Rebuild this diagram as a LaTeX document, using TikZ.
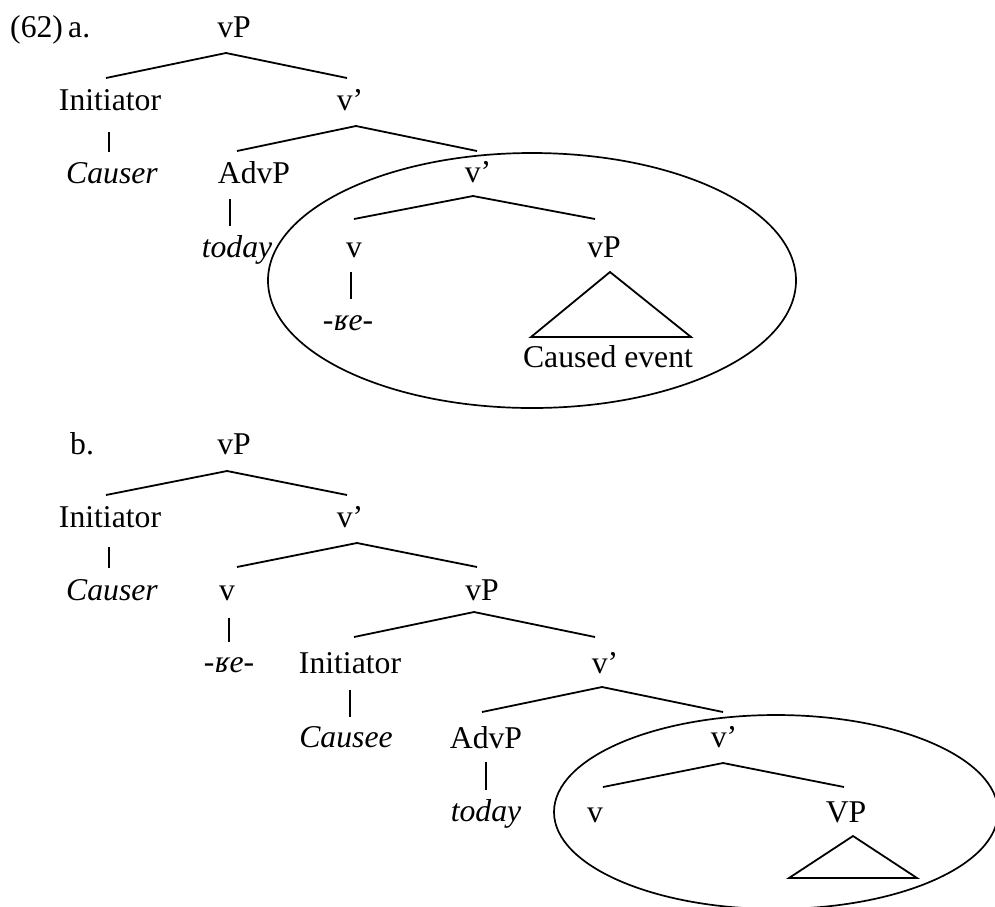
\documentclass[tikz,border=0pt]{standalone}
\usepackage{fontspec}
\setmainfont{Liberation Serif}
\begin{document}
\begin{tikzpicture}[x=1pt,y=-1pt,
  lbl/.style={anchor=base,inner sep=0pt,font=\fontsize{31.7}{38}\selectfont},
  ilbl/.style={lbl,font=\fontsize{31.7}{38}\selectfont\itshape},
  br/.style={line width=1.8pt,line cap=butt},
  ell/.style={line width=1.7pt}]
\useasboundingbox (0,0) rectangle (995,906);
\clip (0,0) rectangle (995,906);

% ---------- (62) a. ----------
\node[lbl,anchor=base west] (exnum) at (10,37) {(62)};
\node[lbl,anchor=base west] (exa) at (68,37) {a.};
\node[lbl] (avP) at (234,37) {vP};
\coordinate (aap1) at (226,53); \coordinate (al1) at (106,78); \coordinate (ar1) at (347,78);
\draw[br] (al1) -- (aap1) -- (ar1);
\node[lbl] (aInit) at (110,110) {Initiator};
\node[lbl] (avbar1) at (350,110) {v’};
\coordinate (ab1t) at (109,132); \coordinate (ab1b) at (109,152);
\draw[br] (ab1t) -- (ab1b);
\node[ilbl] (aCauser) at (112,183) {Causer};
\coordinate (aap2) at (356,126); \coordinate (al2) at (237,151); \coordinate (ar2) at (477,151);
\draw[br] (al2) -- (aap2) -- (ar2);
\node[lbl] (aAdvP) at (254,183) {AdvP};
\coordinate (ab2t) at (230,199); \coordinate (ab2b) at (230,226);
\draw[br] (ab2t) -- (ab2b);
\node[ilbl] (atoday) at (237,257) {today};
\node[lbl] (avbar2) at (478,182) {v’};
\coordinate (aap3) at (473,196); \coordinate (al3) at (354,219); \coordinate (ar3) at (595,219);
\draw[br] (al3) -- (aap3) -- (ar3);
\node[lbl] (av) at (354,257) {v};
\coordinate (ab3t) at (351,272); \coordinate (ab3b) at (351,299);
\draw[br] (ab3t) -- (ab3b);
\node[ilbl] (ake) at (348,330) {-ʁe-};
\node[lbl] (avP2) at (604,257) {vP};
\coordinate (atA) at (610,272); \coordinate (atB) at (531,337); \coordinate (atC) at (691,337);
\draw[br,line join=miter] (atA) -- (atB) -- (atC) -- cycle;
\node[lbl] (acaused) at (608,367) {Caused event};
\coordinate (aellc) at (532,280.5);
\draw[ell] (aellc) ellipse [x radius=264, y radius=127.5];

% ---------- b. ----------
\node[lbl,anchor=base west] (exb) at (70,454) {b.};
\node[lbl] (bvP) at (234,454) {vP};
\coordinate (bap1) at (227,471); \coordinate (bl1) at (106,495); \coordinate (br1) at (347,495);
\draw[br] (bl1) -- (bap1) -- (br1);
\node[lbl] (bInit) at (110,527) {Initiator};
\node[lbl] (bvbar1) at (350,527) {v’};
\coordinate (bb1t) at (109,547); \coordinate (bb1b) at (109,568);
\draw[br] (bb1t) -- (bb1b);
\node[ilbl] (bCauser) at (112,600) {Causer};
\coordinate (bap2) at (357,543); \coordinate (bl2) at (237,567); \coordinate (br2) at (477,567);
\draw[br] (bl2) -- (bap2) -- (br2);
\node[lbl] (bv1) at (227,600) {v};
\coordinate (bb2t) at (229,618); \coordinate (bb2b) at (229,642);
\draw[br] (bb2t) -- (bb2b);
\node[ilbl] (bke) at (229,672) {-ʁe-};
\node[lbl] (bvP2) at (482,600) {vP};
\coordinate (bap3) at (474,612); \coordinate (bl3) at (354,637); \coordinate (br3) at (595,637);
\draw[br] (bl3) -- (bap3) -- (br3);
\node[lbl] (bInit2) at (350,673) {Initiator};
\coordinate (bb3t) at (350,690); \coordinate (bb3b) at (350,717);
\draw[br] (bb3t) -- (bb3b);
\node[ilbl] (bCausee) at (346,747) {Causee};
\node[lbl] (bvbar2) at (605,673) {v’};
\coordinate (bap4) at (602,687); \coordinate (bl4) at (482,712); \coordinate (br4) at (723,712);
\draw[br] (bl4) -- (bap4) -- (br4);
\node[lbl] (bAdvP) at (486,748) {AdvP};
\coordinate (bb4t) at (486,762); \coordinate (bb4b) at (486,790);
\draw[br] (bb4t) -- (bb4b);
\node[ilbl] (btoday) at (486,821) {today};
\node[lbl] (bvbar3) at (724,747) {v’};
\coordinate (bap5) at (723,763); \coordinate (bl5) at (603,787); \coordinate (br5) at (844,787);
\draw[br] (bl5) -- (bap5) -- (br5);
\node[lbl] (bv2) at (595,822) {v};
\node[lbl] (bVP) at (846,822) {VP};
\coordinate (btA) at (853,836); \coordinate (btB) at (789,878); \coordinate (btC) at (917,878);
\draw[br,line join=miter] (btA) -- (btB) -- (btC) -- cycle;
\coordinate (bellc) at (776,812);
\draw[ell] (bellc) ellipse [x radius=222, y radius=97];
\end{tikzpicture}
\end{document}
